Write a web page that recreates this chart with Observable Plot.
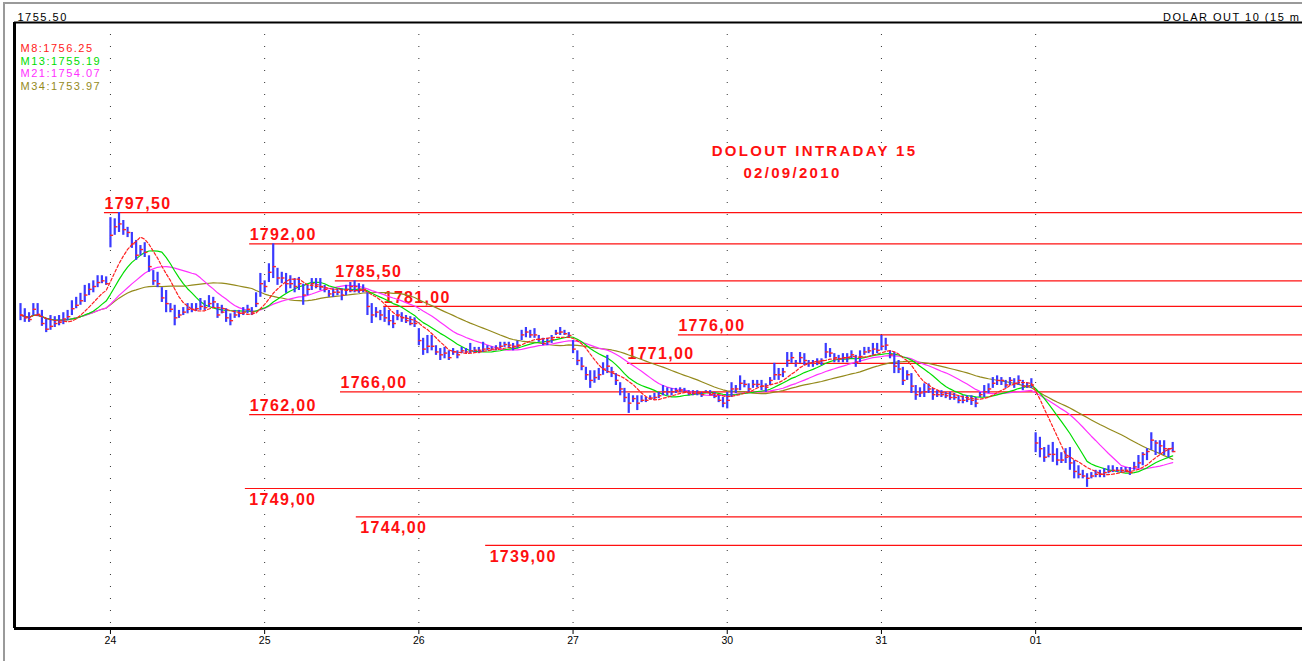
<!DOCTYPE html>
<html><head><meta charset="utf-8">
<script src="https://cdn.jsdelivr.net/npm/d3@7"></script>
<script src="https://cdn.jsdelivr.net/npm/@observablehq/plot@0.6"></script>
<style>
html,body{margin:0;padding:0;background:#fff;overflow:hidden;width:1302px;height:661px}
#chart{position:absolute;left:0;top:0}
#edge{position:absolute;left:3px;top:2px;width:1400px;height:700px;border-left:2px solid #9a9a9a;border-top:2px solid #9a9a9a;pointer-events:none}
#chart g[font-size^="16"]{letter-spacing:1.3px}
#chart g[font-size^="15"]{letter-spacing:2.3px}
#chart g[font-size^="11"]{letter-spacing:1.5px}
</style></head><body>
<div id="chart"></div><div id="edge"></div>
<script>
// ---- data (15-minute bars) ----
const hi = [
1781.5,1780.6,1779.9,1781.5,1781.5,1780.3,1778.9,1779.4,1779.2,1779.4,1779.9,1780.3,1782.0,1782.6,1783.3,1784.7,1785.0,1785.5,1786.4,1786.4,1786.2,
1796.6,1796.4,1797.5,1796.1,1794.9,1794.0,1792.6,1791.7,1792.2,1789.9,1787.3,1787.0,1784.3,1783.8,1781.5,1781.2,1780.3,1780.8,1781.5,1781.5,1781.5,1782.4,1782.0,1782.9,1782.6,1781.5,1781.2,1780.6,1779.7,1780.3,1780.3,1780.8,1781.2,1780.8,1783.4,1786.8,
1785.5,1788.5,1792.0,1787.7,1787.0,1786.8,1786.4,1785.9,1786.1,1784.9,1784.7,1785.9,1785.9,1785.9,1784.7,1783.8,1784.1,1784.1,1784.1,1784.7,1785.2,1785.5,1785.0,1784.8,1783.4,1781.5,1780.8,1780.3,1780.8,1780.3,1779.4,1780.3,1779.9,1779.4,1779.2,1779.0,
1777.1,1775.4,1775.9,1775.9,1774.1,1773.6,1773.8,1773.2,1773.6,1773.2,1773.8,1773.6,1774.5,1773.8,1773.8,1774.7,1774.1,1773.9,1774.1,1774.7,1774.7,1774.7,1774.5,1774.9,1776.8,1777.3,1776.8,1777.1,1775.9,1775.4,1775.4,1775.9,1776.8,1777.3,1776.8,1776.4,
1775.0,1773.2,1772.0,1770.3,1769.7,1769.7,1770.1,1771.1,1772.4,1770.3,1769.2,1767.6,1766.6,1765.7,1765.3,1765.3,1765.3,1765.0,1765.3,1765.7,1765.9,1767.1,1766.7,1766.6,1766.6,1766.7,1766.6,1766.2,1766.2,1766.2,1765.9,1766.2,1766.2,1765.9,1765.3,1765.0,
1765.9,1767.6,1767.1,1768.8,1768.0,1767.4,1768.0,1768.0,1768.0,1767.4,1768.5,1771.0,1770.1,1770.1,1772.9,1772.9,1771.5,1772.9,1772.7,1771.5,1771.5,1771.8,1771.8,1774.5,1773.6,1772.7,1772.4,1772.7,1772.7,1773.2,1772.4,1773.2,1773.8,1773.8,1774.5,1774.5,
1775.9,1775.4,1773.2,1772.9,1771.5,1770.3,1769.7,1769.2,1767.1,1766.7,1767.4,1767.4,1766.6,1766.2,1766.2,1765.9,1765.9,1765.7,1765.3,1765.3,1765.3,1765.3,1765.0,1765.9,1767.1,1767.4,1768.5,1768.8,1768.5,1768.0,1768.5,1768.3,1768.8,1768.0,1767.6,1768.3,
1758.8,1758.0,1756.2,1756.6,1757.1,1756.0,1755.3,1756.0,1756.2,1753.9,1753.0,1752.2,1751.6,1751.8,1752.2,1752.2,1752.5,1753.0,1753.0,1752.7,1752.7,1752.7,1752.7,1753.6,1754.8,1755.3,1756.0,1758.8,1757.4,1757.4,1757.4,1756.0,1757.1
];
const lo = [
1778.5,1778.2,1778.2,1779.4,1779.2,1777.5,1776.4,1776.8,1777.3,1777.6,1777.8,1778.5,1779.4,1780.6,1781.2,1781.7,1782.9,1783.4,1784.3,1785.0,1784.7,
1791.3,1793.5,1794.0,1793.5,1793.1,1791.2,1789.1,1789.9,1789.6,1787.0,1784.7,1784.3,1781.7,1779.9,1779.9,1777.6,1778.9,1779.4,1779.7,1779.9,1780.1,1780.3,1780.3,1780.8,1780.8,1778.9,1779.7,1778.2,1777.6,1778.9,1779.0,1779.4,1779.7,1779.4,1780.8,1782.6,
1783.4,1785.2,1785.9,1784.7,1785.0,1783.3,1784.1,1783.4,1783.8,1781.2,1782.9,1783.8,1784.1,1783.8,1783.4,1782.6,1782.6,1782.9,1782.0,1782.9,1783.4,1783.4,1783.3,1783.4,1779.4,1778.0,1779.0,1778.5,1778.2,1777.6,1777.1,1778.5,1778.2,1778.0,1777.6,1777.3,
1774.1,1772.4,1772.7,1773.2,1772.4,1771.5,1771.8,1771.5,1772.4,1771.8,1772.7,1772.7,1772.7,1772.9,1772.7,1772.9,1773.2,1773.2,1773.2,1773.6,1773.8,1773.6,1773.2,1773.6,1775.0,1775.5,1775.4,1775.4,1774.7,1774.1,1774.1,1774.5,1775.9,1775.9,1775.9,1775.5,
1772.7,1770.6,1769.7,1768.0,1766.6,1767.5,1768.0,1768.9,1769.2,1768.5,1767.1,1765.3,1764.1,1762.2,1764.1,1762.7,1764.1,1764.1,1764.5,1764.5,1764.8,1765.3,1765.3,1765.3,1765.7,1765.9,1765.7,1765.3,1765.3,1765.3,1765.0,1765.7,1765.3,1764.8,1764.1,1763.2,
1763.0,1765.0,1765.7,1766.2,1766.7,1765.9,1766.6,1766.7,1766.2,1765.9,1767.1,1768.0,1768.0,1768.5,1770.3,1771.0,1770.3,1771.0,1770.6,1770.3,1770.3,1770.6,1770.6,1771.8,1772.0,1771.1,1771.1,1771.1,1771.1,1771.8,1770.3,1771.1,1772.4,1772.7,1772.4,1772.7,
1773.2,1773.2,1771.8,1769.2,1769.2,1767.1,1768.0,1765.7,1764.5,1765.0,1765.0,1765.7,1764.5,1765.0,1765.0,1764.8,1764.5,1764.5,1763.9,1763.9,1764.1,1763.6,1763.2,1765.0,1765.0,1765.7,1766.6,1767.1,1767.1,1766.6,1767.1,1766.6,1767.1,1766.2,1766.6,1766.6,
1755.3,1754.4,1753.6,1754.4,1753.6,1753.0,1753.4,1753.4,1752.2,1750.7,1750.7,1750.7,1749.2,1750.7,1750.9,1750.9,1750.9,1751.6,1751.8,1751.8,1751.8,1751.8,1751.3,1752.2,1752.5,1753.0,1753.9,1755.7,1754.8,1755.1,1754.8,1754.4,1755.3
];
const cl = [
1779.5,1779.0,1778.7,1780.5,1779.6,1778.0,1777.0,1777.5,1778.0,1778.2,1778.8,1779.2,1780.6,1781.2,1782.0,1783.0,1784.0,1784.5,1785.2,1785.5,1785.0,
1793.5,1795.0,1795.5,1794.5,1794.0,1792.0,1790.0,1791.0,1790.5,1788.0,1785.5,1785.0,1782.5,1781.5,1780.5,1779.0,1779.5,1780.0,1780.5,1780.5,1780.6,1781.0,1780.8,1781.5,1781.8,1779.5,1780.0,1779.0,1778.5,1779.5,1779.8,1780.0,1780.5,1780.0,1781.5,1785.0,
1784.5,1787.0,1788.0,1786.0,1786.0,1785.0,1785.0,1784.5,1785.0,1783.0,1784.0,1785.0,1784.8,1784.5,1784.0,1783.2,1783.5,1783.5,1783.0,1784.0,1784.5,1784.5,1784.0,1784.0,1781.0,1779.5,1780.0,1779.5,1779.0,1778.5,1778.0,1779.5,1779.0,1778.5,1778.0,1778.0,
1775.0,1773.5,1774.0,1774.0,1773.0,1772.5,1772.8,1772.0,1773.0,1772.5,1773.2,1773.0,1773.2,1773.3,1773.3,1773.5,1773.6,1773.5,1773.7,1774.0,1774.3,1774.2,1774.0,1774.2,1776.0,1776.5,1776.0,1776.0,1775.2,1774.5,1774.8,1775.2,1776.3,1776.5,1776.2,1775.9,
1773.5,1771.5,1770.5,1769.0,1768.0,1768.5,1769.0,1770.0,1770.5,1769.5,1768.0,1766.5,1765.0,1764.0,1764.8,1764.0,1764.5,1764.5,1764.9,1765.0,1765.3,1766.0,1766.0,1766.0,1766.2,1766.3,1766.0,1765.7,1765.7,1765.8,1765.5,1766.0,1765.5,1765.2,1764.5,1764.0,
1764.5,1766.5,1766.5,1767.5,1767.3,1766.5,1767.3,1767.3,1767.0,1766.8,1768.0,1769.0,1769.0,1769.5,1771.5,1772.0,1771.0,1772.0,1771.5,1771.0,1771.0,1771.2,1771.5,1773.0,1772.8,1772.0,1771.8,1772.0,1772.0,1772.5,1771.2,1772.2,1773.0,1773.2,1773.5,1773.3,
1774.0,1774.2,1772.5,1770.5,1770.0,1768.0,1769.0,1767.0,1765.5,1765.8,1766.0,1766.5,1765.5,1765.5,1765.5,1765.3,1765.0,1765.0,1764.5,1764.5,1764.7,1764.5,1764.0,1765.5,1766.0,1766.5,1767.5,1768.0,1768.0,1767.2,1768.0,1767.5,1768.0,1767.0,1767.0,1767.2,
1757.0,1756.0,1754.5,1755.0,1755.0,1754.0,1754.0,1754.5,1753.5,1752.0,1751.5,1751.2,1750.8,1751.2,1751.5,1751.5,1751.8,1752.0,1752.2,1752.2,1752.2,1752.2,1751.8,1752.8,1753.5,1755.0,1755.5,1757.5,1757.0,1756.5,1756.0,1756.0,1755.5
];
const dayLabels = ["24","25","26","27","30","31","01"];
const dayStart  = [21, 57, 93, 129, 165, 201, 237];           // bar index where each session begins
const levels      = [1797.5, 1792, 1785.5, 1781, 1776, 1771, 1766, 1762, 1749, 1744, 1739];
const levelLabels = ["1797,50","1792,00","1785,50","1781,00","1776,00","1771,00","1766,00","1762,00","1749,00","1744,00","1739,00"];
const levelFrom   = [19.6, 53.5, 73.5, 84.8, 153.6, 141.7, 74.7, 53.5, 52.5, 78.4, 108.6]; // bar index where line starts
const maNames  = ["M8","M13","M21","M34"];
const maLast   = ["1756.25","1755.19","1754.07","1753.97"];
const lastPrice = "1755.50";
const symbolText = "DOLAR OUT 10 (15 m";
const titleLines = ["DOLOUT INTRADAY 15", "02/09/2010"];

// ---- build ----
const bars = cl.map((c, i) => ({i, hi: hi[i], lo: lo[i], cl: c}));
const lv = levels.map((v, k) => ({v, label: levelLabels[k], from: levelFrom[k], below: v < 1750}));
const xDom = [-1.4, 299.3], yDom = [1724.4, 1830.9];
const maColors = ["#ff2020", "#00dd00", "#ff30ff", "#948a1c"];
const red = "#ff1010";

const ma = (k, color, dash) => Plot.lineY(bars, Plot.windowY({k, anchor: "end"},
  {x: "i", y: "cl", stroke: color, strokeWidth: 1.2, strokeDasharray: dash}));

const chart = Plot.plot({
  width: 1302, height: 661,
  marginTop: 22, marginBottom: 33, marginLeft: 14, marginRight: 0,
  style: {fontFamily: "'Liberation Sans', Arial, sans-serif", fontSize: "10.5px", background: "white", color: "black"},
  x: {type: "linear", domain: xDom, ticks: dayStart, tickFormat: d => dayLabels[dayStart.indexOf(d)], tickSize: 6, tickPadding: 2, label: null},
  y: {type: "linear", domain: yDom, axis: null},
  marks: [
    Plot.ruleX(dayStart, {stroke: "#333", strokeWidth: 1, strokeDasharray: "1,11"}),
    Plot.ruleY(lv, {y: "v", x1: "from", x2: xDom[1], stroke: red, strokeWidth: 1.2}),
    Plot.text(lv.filter(d => !d.below), {x: "from", y: "v", text: "label", textAnchor: "start", dy: -9, fill: red, fontWeight: "bold", fontSize: 16}),
    Plot.text(lv.filter(d => d.below), {x: "from", y: "v", text: "label", textAnchor: "start", dx: 4, dy: 11, fill: red, fontWeight: "bold", fontSize: 16}),
    ma(34, maColors[3]),
    ma(21, maColors[2]),
    ma(13, maColors[1]),
    Plot.ruleX(bars, {x: "i", y1: "lo", y2: "hi", stroke: "#3a3aff", strokeWidth: 2.2}),
    Plot.ruleY(bars, {y: "cl", x1: "i", x2: d => d.i + 0.75, stroke: "#ff2424", strokeWidth: 1.4}),
    ma(8, maColors[0], "3,2"),
    // frame
    Plot.ruleY([yDom[1]], {stroke: "black", strokeWidth: 2}),
    Plot.ruleY([yDom[0]], {stroke: "black", strokeWidth: 3}),
    Plot.ruleX([xDom[0]], {stroke: "black", strokeWidth: 3}),
    // header / legend / title
    Plot.text([lastPrice], {frameAnchor: "top-left", dx: 3, dy: -9, text: d => d, fill: "black", fontSize: 11}),
    Plot.text([symbolText], {frameAnchor: "top-right", textAnchor: "end", dx: -2, dy: -9, text: d => d, fill: "black", fontSize: 11}),
    Plot.text(maNames.map((n, k) => ({t: `${n}:${maLast[k]}`, k})), {frameAnchor: "top-left", dx: 3, dy: 13, text: "t", fill: d => maColors[d.k], fontSize: 11, lineAnchor: "middle"}),
    Plot.text([titleLines[0]], {frameAnchor: "top-left", dx: 800, dy: 123, text: d => d, fill: red, fontWeight: "bold", fontSize: 15, textAnchor: "middle"}),
    Plot.text([titleLines[1]], {frameAnchor: "top-left", dx: 778, dy: 145, text: d => d, fill: red, fontWeight: "bold", fontSize: 15, textAnchor: "middle"})
  ]
});
document.getElementById("chart").appendChild(chart);
// stack legend lines vertically
d3.select(chart).selectAll("text").filter(function(){ return /^M\d+:/.test(this.textContent); })
  .attr("transform", function(){ const k = maNames.indexOf(this.textContent.split(":")[0]); return `translate(17,${35 + k * 12.7})`; });
</script></body></html>
